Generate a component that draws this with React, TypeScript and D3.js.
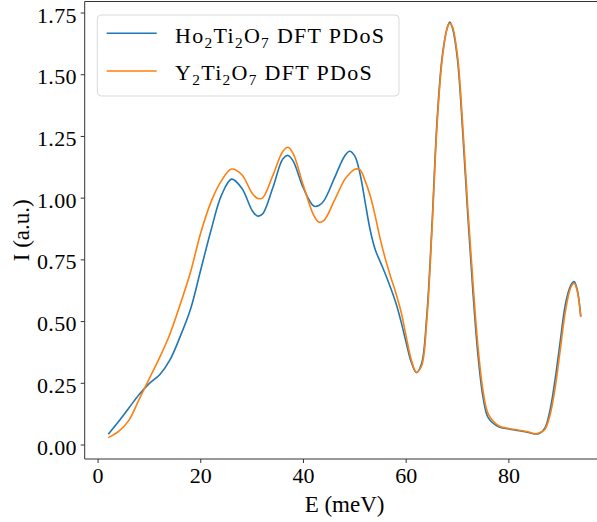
import React from "react";
import * as d3 from "d3";

const energy = [2, 4, 6, 8, 10, 12, 14, 16, 18, 20, 22, 24, 26, 28, 30, 31, 32, 34, 36, 37, 38, 40, 42, 43, 44, 46, 48, 49, 50, 51, 52, 53, 54, 55, 56, 57, 58, 59, 60, 61, 62, 63, 64, 65, 66, 67, 68, 68.5, 69, 70, 71, 72, 73, 74, 75, 76, 78, 80, 82, 84, 85, 86, 87, 88, 89, 90, 91, 92, 92.7, 93.3, 94];

const hoPdos = [0.044, 0.095, 0.15, 0.205, 0.25, 0.285, 0.345, 0.44, 0.55, 0.71, 0.87, 1.01, 1.077, 1.04, 0.95, 0.928, 0.935, 1.04, 1.16, 1.173, 1.15, 1.04, 0.968, 0.97, 0.99, 1.08, 1.17, 1.19, 1.17, 1.1, 0.985, 0.87, 0.79, 0.74, 0.69, 0.635, 0.575, 0.5, 0.415, 0.335, 0.293, 0.33, 0.52, 0.88, 1.31, 1.57, 1.69, 1.713, 1.69, 1.56, 1.27, 0.93, 0.62, 0.36, 0.19, 0.11, 0.074, 0.065, 0.058, 0.05, 0.045, 0.048, 0.068, 0.14, 0.265, 0.42, 0.57, 0.645, 0.662, 0.63, 0.52];

const yPdos = [0.03, 0.055, 0.1, 0.185, 0.27, 0.355, 0.45, 0.57, 0.7, 0.86, 0.985, 1.07, 1.118, 1.095, 1.02, 1.0, 1.0, 1.09, 1.19, 1.206, 1.18, 1.05, 0.93, 0.903, 0.91, 0.99, 1.075, 1.1, 1.117, 1.115, 1.07, 1.01, 0.925, 0.83, 0.75, 0.68, 0.615, 0.54, 0.44, 0.345, 0.295, 0.32, 0.5, 0.86, 1.29, 1.56, 1.69, 1.708, 1.695, 1.575, 1.3, 0.96, 0.66, 0.395, 0.215, 0.125, 0.078, 0.067, 0.06, 0.052, 0.046, 0.05, 0.063, 0.12, 0.23, 0.385, 0.54, 0.635, 0.655, 0.625, 0.52];

const xTicks = [0, 20, 40, 60, 80];
const yTicks = [0, 0.25, 0.5, 0.75, 1.0, 1.25, 1.5, 1.75];

const hoLabel: [string, boolean][] = [["Ho", false], ["2", true], ["Ti", false], ["2", true], ["O", false], ["7", true], ["\u00a0DFT PDoS", false]];
const yLabel: [string, boolean][] = [["Y", false], ["2", true], ["Ti", false], ["2", true], ["O", false], ["7", true], ["\u00a0DFT PDoS", false]];

const xTitle = "E (meV)";
const yTitle = "I (a.u.)";

const FONT = "'Liberation Serif', 'DejaVu Serif', serif";

function RichText({ parts, x, y, size }: { parts: [string, boolean][]; x: number; y: number; size: number }) {
  let prevSub = false;
  return (
    <text x={x} y={y} fontSize={size} fontFamily={FONT} fill="#000" letterSpacing={1.3} style={{ whiteSpace: "pre" }}>
      {parts.map(([t, sub], i) => {
        let dy = 0;
        if (sub && !prevSub) dy = 5;
        if (!sub && prevSub) dy = -5;
        prevSub = sub;
        return (
          <tspan key={i} dy={dy} fontSize={sub ? size * 0.7 : size}>
            {t}
          </tspan>
        );
      })}
    </text>
  );
}

export default function App() {
  const W = 597;
  const H = 522;
  const left = 84.7;
  const right = 604.4;
  const top = 1.5;
  const bottom = 459;

  const x = d3.scaleLinear().domain([-2.6, 98.6]).range([left, right]);
  const y = d3.scaleLinear().domain([-0.0566, 1.7966]).range([bottom, top]);

  const line = (vals: number[]) =>
    d3
      .line<number>()
      .x((_, i) => x(energy[i]))
      .y((d) => y(d))
      .curve(d3.curveCatmullRom.alpha(0.5))(vals) || "";

  const fs = 22;
  const spine = "#333";

  return (
    <svg width={W} height={H} style={{ position: "absolute", left: 0, top: 0, background: "#fff" }}>
      <rect x={0} y={0} width={W} height={H} fill="#fff" />
      <path d={line(hoPdos)} fill="none" stroke="#1f77b4" strokeWidth={1.6} strokeLinejoin="round" />
      <path d={line(yPdos)} fill="none" stroke="#ff7f0e" strokeWidth={1.6} strokeLinejoin="round" />

      {/* spines */}
      <line x1={left} x2={left} y1={top} y2={bottom} stroke={spine} strokeWidth={1} />
      <line x1={left} x2={right} y1={bottom} y2={bottom} stroke={spine} strokeWidth={1} />
      <line x1={left} x2={right} y1={top} y2={top} stroke={spine} strokeWidth={1} />

      {/* x ticks */}
      {xTicks.map((t) => (
        <g key={"x" + t}>
          <line x1={x(t)} x2={x(t)} y1={bottom} y2={bottom + 4} stroke={spine} strokeWidth={1} />
          <text x={x(t)} y={483} textAnchor="middle" fontSize={fs} fontFamily={FONT} fill="#000">
            {t}
          </text>
        </g>
      ))}

      {/* y ticks */}
      {yTicks.map((t) => (
        <g key={"y" + t}>
          <line x1={left - 4} x2={left} y1={y(t)} y2={y(t)} stroke={spine} strokeWidth={1} />
          <text x={77} y={y(t) + 9.5} textAnchor="end" fontSize={fs} fontFamily={FONT} fill="#000" letterSpacing={0.4}>
            {t.toFixed(2)}
          </text>
        </g>
      ))}

      {/* axis titles */}
      <text x={(left + right) / 2} y={511.5} textAnchor="middle" fontSize={fs + 1} fontFamily={FONT} fill="#000">
        {xTitle}
      </text>
      <text
        transform={`translate(28.5, ${(top + bottom) / 2}) rotate(-90)`}
        textAnchor="middle"
        fontSize={fs + 1}
        fontFamily={FONT}
        fill="#000"
      >
        {yTitle}
      </text>

      {/* legend */}
      <rect x={97.3} y={15} width={301.7} height={81} rx={4} ry={4} fill="#fff" fillOpacity={0.8} stroke="#d9d9d9" strokeWidth={1} />
      <line x1={106.7} x2={156.7} y1={33.3} y2={33.3} stroke="#1f77b4" strokeWidth={1.6} />
      <line x1={106.7} x2={156.7} y1={71} y2={71} stroke="#ff7f0e" strokeWidth={1.6} />
      <RichText parts={hoLabel} x={175} y={43.3} size={fs} />
      <RichText parts={yLabel} x={175} y={80} size={fs} />
    </svg>
  );
}
